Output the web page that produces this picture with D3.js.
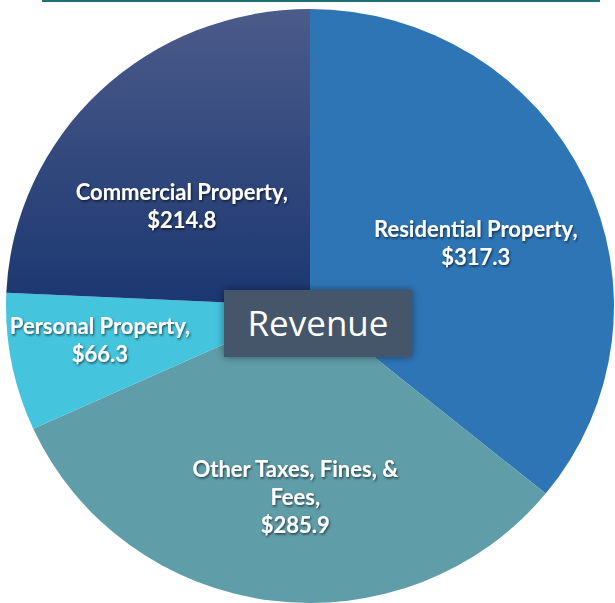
<!DOCTYPE html>
<html>
<head>
<meta charset="utf-8">
<script src="https://cdn.jsdelivr.net/npm/d3@7"></script>
<style>
  html, body { margin: 0; padding: 0; background: #fff; }
  svg { display: block; }
  .label { font-family: Lato, "Open Sans", sans-serif; font-weight: 700; font-size: 22px; fill: #fff; }
</style>
</head>
<body>
<div id="chart"></div>
<script>
// revenue by source, millions
var categories = ["Residential Property", "Other Taxes, Fines, & Fees", "Personal Property", "Commercial Property"];
var values = [317.3, 285.9, 66.3, 214.8];
var labelLines = [
    ["Residential Property,", "$317.3"],
    ["Other Taxes, Fines, &", "Fees,", "$285.9"],
    ["Personal Property,", "$66.3"],
    ["Commercial Property,", "$214.8"]
];

var width = 615, height = 603;
var cx = 310, cy = 306, r = 300;
var colors = ["#2E75B6", "#5F9DA8", "#45C4DE", "url(#commGrad)"];
// label spots (excel "best fit"): radius fraction + angle nudge in degrees
var labelR = [0.59, 0.643, 0.71, 0.54];
var labelNudge = [4.9, -3, 1.4, -8.6];

var svg = d3.select("#chart").append("svg")
    .attr("width", width)
    .attr("height", height);

var defs = svg.append("defs");
var grad = defs.append("linearGradient")
    .attr("id", "commGrad")
    .attr("x1", 0).attr("y1", 0).attr("x2", 0).attr("y2", 1);
grad.append("stop").attr("offset", "0%").attr("stop-color", "#4B5B8A");
grad.append("stop").attr("offset", "100%").attr("stop-color", "#1B3771");

var shadow = defs.append("filter").attr("id", "txtShadow")
    .attr("x", "-10%").attr("y", "-20%").attr("width", "120%").attr("height", "150%");
shadow.append("feDropShadow")
    .attr("dx", 1).attr("dy", 1.5).attr("stdDeviation", 1)
    .attr("flood-color", "#000").attr("flood-opacity", 0.6);

var boxShadow = defs.append("filter").attr("id", "boxShadow")
    .attr("x", "-20%").attr("y", "-40%").attr("width", "140%").attr("height", "180%");
boxShadow.append("feDropShadow")
    .attr("dx", 0).attr("dy", 0).attr("stdDeviation", 4)
    .attr("flood-color", "#000").attr("flood-opacity", 0.45);

// thin teal rule across the top
svg.append("rect")
    .attr("x", 42).attr("y", 0)
    .attr("width", 558).attr("height", 2)
    .attr("fill", "#216E74");

var pie = d3.pie().sort(null).value(function (d) { return d; });
var arcs = pie(values);
var arc = d3.arc().innerRadius(0).outerRadius(r);

var g = svg.append("g")
    .attr("transform", "translate(" + cx + "," + cy + ") scale(" + (304 / r) + "," + (297 / r) + ")");

g.selectAll(".slice")
    .data(arcs)
  .enter().append("path")
    .attr("class", "slice")
    .attr("d", arc)
    .attr("fill", function (d, i) { return colors[i]; });

var lh = 28;
var labels = svg.selectAll(".label")
    .data(arcs)
  .enter().append("text")
    .attr("class", "label")
    .attr("text-anchor", "middle")
    .attr("filter", "url(#txtShadow)")
    .each(function (d, i) {
        var a = (d.startAngle + d.endAngle) / 2 + labelNudge[i] * Math.PI / 180;
        var x = cx + Math.sin(a) * r * labelR[i];
        var y = cy - Math.cos(a) * r * labelR[i];
        var lines = labelLines[i];
        var y0 = y - (lines.length - 1) * lh / 2 + 7;
        var t = d3.select(this);
        lines.forEach(function (s, k) {
            t.append("tspan").attr("x", x).attr("y", y0 + k * lh).text(s);
        });
    });

// center title box
var box = svg.append("g");
box.append("rect")
    .attr("x", 224).attr("y", 290)
    .attr("width", 188).attr("height", 67)
    .attr("fill", "#44546A")
    .attr("filter", "url(#boxShadow)");
box.append("text")
    .attr("x", 318).attr("y", 336)
    .attr("text-anchor", "middle")
    .style("font-family", "'Open Sans', sans-serif")
    .style("font-size", "35px")
    .attr("fill", "#fff")
    .text("Revenue");
</script>
</body>
</html>
